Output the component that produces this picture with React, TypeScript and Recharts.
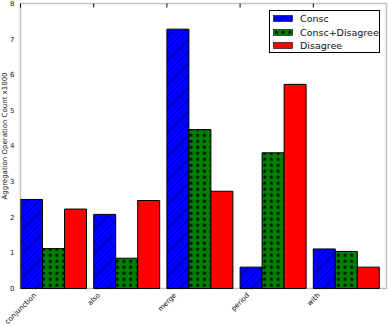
import React from "react";
import { BarChart, Bar, XAxis, YAxis, ReferenceArea } from "recharts";

const categories = ["conjunction", "also", "merge", "period", "with"];
const consc = [2.5, 2.08, 7.28, 0.6, 1.11];
const conscDisagree = [1.12, 0.85, 4.46, 3.81, 1.04];
const disagree = [2.23, 2.47, 2.73, 5.73, 0.6];
const yTicks = [0, 1, 2, 3, 4, 5, 6, 7, 8];
const xTicks = [0, 1, 2, 3, 4];

const SERIES = [
  { key: "consc", label: "Consc", fill: "url(#hatchBlue)" },
  { key: "conscDisagree", label: "Consc+Disagree", fill: "url(#starsGreen)" },
  { key: "disagree", label: "Disagree", fill: "#ff0000" },
] as const;

// groups start at their tick like matplotlib's bar(ind + k*width)
const data = categories.map((name, i) => ({
  name,
  pos: i + 0.45,
  consc: consc[i],
  conscDisagree: conscDisagree[i],
  disagree: disagree[i],
}));

const FONT = '"DejaVu Sans", sans-serif';

let measureCtx: CanvasRenderingContext2D | null = null;
const textWidth = (t: string, size: number): number => {
  if (!measureCtx) measureCtx = document.createElement("canvas").getContext("2d");
  if (!measureCtx) return t.length * size * 0.55;
  measureCtx.font = `${size}px "DejaVu Sans"`;
  return measureCtx.measureText(t).width;
};

const starPoints = (cx: number, cy: number, r: number): string => {
  const pts: string[] = [];
  for (let k = 0; k < 10; k++) {
    const rad = k % 2 === 0 ? r : r * 0.42;
    const a = -Math.PI / 2 + (k * Math.PI) / 5;
    pts.push(`${(cx + rad * Math.cos(a)).toFixed(2)},${(cy + rad * Math.sin(a)).toFixed(2)}`);
  }
  return pts.join(" ");
};

const Patterns = () => (
  <svg width={0} height={0} style={{ position: "absolute" }}>
    <defs>
      <pattern id="hatchBlue" patternUnits="userSpaceOnUse" width={12} height={12}>
        <rect width={12} height={12} fill="#0000ff" />
        <path d="M-3,3 L3,-3 M0,12 L12,0 M9,15 L15,9" stroke="#000" strokeWidth={0.7} />
      </pattern>
      <pattern id="starsGreen" patternUnits="userSpaceOnUse" width={6.7} height={6}>
        <rect width={6.7} height={6} fill="#008000" />
        <polygon points={starPoints(3.35, 3.2, 2.4)} fill="#000" />
      </pattern>
    </defs>
  </svg>
);

// rotated 45°, bounding box centred under the tick (matplotlib rotation=45)
const XTick = (props: any) => {
  const { x, y, payload } = props;
  const label = categories[payload.value] ?? "";
  const size = 7;
  const ext = (textWidth(label, size) + size) * Math.SQRT1_2;
  return (
    <g transform={`translate(${x},${y + ext / 2})`}>
      <g transform="rotate(-45)">
        <text x={0} y={0} dy="0.35em" textAnchor="middle" fontSize={size} fontFamily={FONT} fill="#000">
          {label}
        </text>
      </g>
    </g>
  );
};

const NoLabel = () => null;

const YLabel = () => (
  <g transform="translate(5,136)">
    <g transform="rotate(-90)">
      <text x={0} y={0} dy="0.35em" textAnchor="middle" fontSize={7} fontFamily={FONT} fill="#111">
        Aggregation Operation Count x1000
      </text>
    </g>
  </g>
);

export default function App() {
  return (
    <div
      style={{
        position: "absolute",
        left: 0,
        top: 0,
        width: 388,
        height: 326,
        background: "#fff",
        fontFamily: FONT,
      }}
    >
      <Patterns />
      <BarChart
        width={388}
        height={326}
        data={data}
        margin={{ top: 3.5, right: 1.5, bottom: 0, left: 0 }}
        barCategoryGap="5%"
        barGap={0}
      >
        <ReferenceArea
          x1={0}
          x2={5}
          y1={0}
          y2={8}
          fill="none"
          stroke="#c4c4c4"
          strokeWidth={1.6}
          ifOverflow="visible"
        />
        <XAxis
          dataKey="pos"
          type="number"
          domain={[0, 5]}
          ticks={xTicks}
          allowDataOverflow
          height={37.5}
          axisLine={false}
          tickLine={false}
          tickSize={0}
          tickMargin={3}
          interval={0}
          tick={<XTick />}
        />
        {/* inward tick marks along the top edge */}
        <XAxis
          xAxisId="top"
          orientation="top"
          dataKey="pos"
          type="number"
          domain={[0, 5]}
          ticks={xTicks}
          allowDataOverflow
          height={1}
          mirror
          axisLine={false}
          tickSize={4}
          tickLine={{ stroke: "#000", strokeWidth: 1 }}
          tick={<NoLabel />}
          interval={0}
        />
        <YAxis
          domain={[0, 8]}
          ticks={yTicks}
          width={20.5}
          axisLine={false}
          tickLine={false}
          tickSize={4}
          tickMargin={2}
          interval={0}
          tick={{ fontSize: 7, fill: "#111", fontFamily: FONT }}
          label={<YLabel />}
        />
        {/* inward tick marks along the right edge */}
        <YAxis
          yAxisId="right"
          orientation="right"
          domain={[0, 8]}
          ticks={yTicks}
          width={1}
          mirror
          axisLine={false}
          tickSize={4}
          tickLine={{ stroke: "#000", strokeWidth: 1 }}
          tick={<NoLabel />}
          interval={0}
        />
        {SERIES.map((s) => (
          <Bar
            key={s.key}
            dataKey={s.key}
            fill={s.fill}
            stroke="#000"
            strokeWidth={1}
            isAnimationActive={false}
          />
        ))}
      </BarChart>

      {/* Legend */}
      <div
        style={{
          position: "absolute",
          left: 269,
          top: 10,
          width: 111,
          height: 43,
          boxSizing: "border-box",
          border: "1px solid #000",
          background: "#fff",
          paddingTop: 1,
        }}
      >
        {SERIES.map((s) => (
          <div
            key={s.key}
            style={{
              display: "flex",
              alignItems: "center",
              height: 13.5,
              paddingLeft: 3,
              fontSize: 9.5,
              color: "#111",
              whiteSpace: "nowrap",
            }}
          >
            <svg width={20} height={7} style={{ marginRight: 7, flexShrink: 0 }}>
              <rect x={0.5} y={0.5} width={19} height={6} fill={s.fill} stroke="#000" strokeWidth={0.6} />
            </svg>
            {s.label}
          </div>
        ))}
      </div>
    </div>
  );
}
